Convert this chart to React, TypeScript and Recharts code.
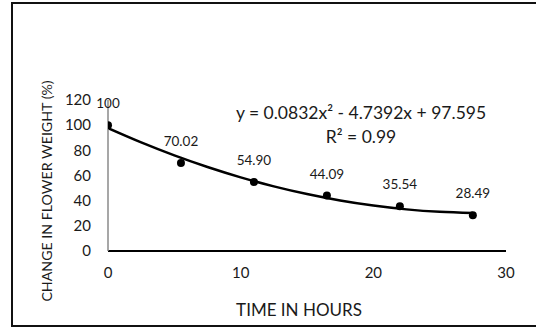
import React from 'react';
import { ComposedChart, XAxis, YAxis, Scatter, Line, LabelList, Customized } from 'recharts';

const hours = [0, 5.5, 11, 16.5, 22, 27.5];
const weightChange = [100, 70.02, 54.9, 44.09, 35.54, 28.49];
const weightLabels = ['100', '70.02', '54.90', '44.09', '35.54', '28.49'];

// trend line values
const trendHours = [0, 2.5, 5, 7.5, 10, 12.5, 15, 17.5, 20, 22.5, 25, 27.5];
const trendValues = [97.6, 86.27, 75.98, 66.73, 58.52, 51.36, 45.23, 40.14, 36.09, 33.08, 31.12, 30.19];

const xTicks = [0, 10, 20, 30];
const yTicks = [0, 20, 40, 60, 80, 100, 120];

const equationText = 'y = 0.0832x² - 4.7392x + 97.595';
const rSquaredText = 'R² = 0.99';
const xTitle = 'TIME IN HOURS';
const yTitle = 'CHANGE IN FLOWER WEIGHT (%)';

const FONT = 'Lato, "Open Sans", sans-serif';
const TEXT = '#1a1a1a';

const points = hours.map((x, i) => ({ x, y: weightChange[i], label: weightLabels[i] }));
const trend = trendHours.map((x, i) => ({ x, y: trendValues[i] }));

const renderPointLabel = (props: any) => {
  const { x, y, width, height, value } = props;
  const cx = Number(x) + (Number(width) || 0) / 2;
  const cy = Number(y) + (Number(height) || 0) / 2;
  return (
    <text x={cx} y={cy - 22} textAnchor="middle" dominantBaseline="central" fontFamily={FONT} fontSize={13.5} fill={TEXT}>
      {value}
    </text>
  );
};

const Annotations = () => (
  <g>
    <text x={361} y={112.5} textAnchor="middle" dominantBaseline="central" fontFamily={FONT} fontSize={17.5} fill={TEXT}>
      {equationText}
    </text>
    <text x={361} y={136} textAnchor="middle" dominantBaseline="central" fontFamily={FONT} fontSize={17.5} fill={TEXT}>
      {rSquaredText}
    </text>
    <text x={299} y={309} textAnchor="middle" dominantBaseline="central" fontFamily={FONT} fontSize={17} fill={TEXT}>
      {xTitle}
    </text>
    <text
      x={46}
      y={191}
      textAnchor="middle"
      dominantBaseline="central"
      fontFamily={FONT}
      fontSize={14.2}
      fill={TEXT}
      transform="rotate(-90 46 191)"
    >
      {yTitle}
    </text>
  </g>
);

export default function App() {
  return (
    <div style={{ position: 'absolute', left: 0, top: 0, width: 536, height: 328, overflow: 'hidden', background: '#fff' }}>
      <div
        style={{
          position: 'absolute',
          left: 11,
          top: 2,
          width: 600,
          height: 325,
          border: '2px solid #111',
          boxSizing: 'border-box',
        }}
      />
      <div style={{ position: 'absolute', left: 0, top: 0 }}>
        <ComposedChart width={536} height={328} margin={{ top: 100, right: 30, bottom: 0, left: 0 }}>
          <XAxis
            dataKey="x"
            type="number"
            domain={[0, 30]}
            ticks={xTicks}
            allowDataOverflow
            tickLine={false}
            tickSize={0}
            tickMargin={16}
            height={77}
            axisLine={{ stroke: '#000', strokeWidth: 2 }}
            tick={{ fontFamily: FONT, fontSize: 15, fill: TEXT }}
          />
          <YAxis
            dataKey="y"
            type="number"
            domain={[0, 120]}
            ticks={yTicks}
            width={108}
            tickLine={false}
            tickSize={0}
            tickMargin={17}
            axisLine={{ stroke: '#8a8a8a', strokeWidth: 1.5 }}
            tick={{ fontFamily: FONT, fontSize: 15, fill: TEXT }}
          />
          <Line
            data={trend}
            dataKey="y"
            type="monotone"
            stroke="#000"
            strokeWidth={2.5}
            dot={false}
            activeDot={false}
            isAnimationActive={false}
          />
          <Scatter
            data={points}
            dataKey="y"
            fill="#000"
            shape={(p: any) => <circle cx={p.cx} cy={p.cy} r={4} fill="#000" />}
            isAnimationActive={false}
          >
            <LabelList dataKey="label" content={renderPointLabel} />
          </Scatter>
          <Customized component={Annotations} />
        </ComposedChart>
      </div>
    </div>
  );
}
